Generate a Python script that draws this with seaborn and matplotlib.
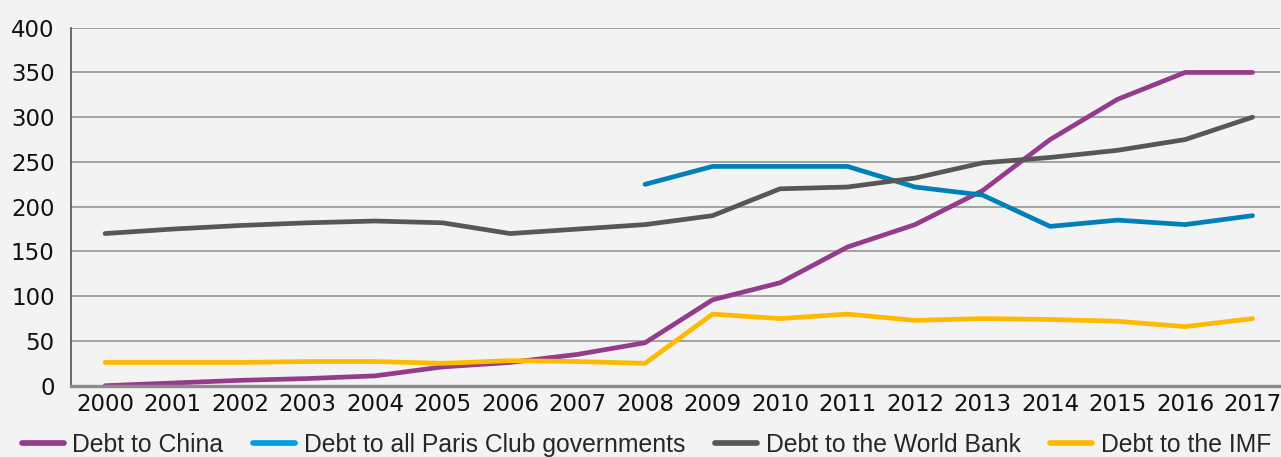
import numpy as np
import pandas as pd
import seaborn as sns
import matplotlib.pyplot as plt
from matplotlib.lines import Line2D

years = list(range(2000, 2018))

# values
china = [0, 3, 6, 8, 11, 21, 26, 35, 48, 96, 115, 155, 180, 218, 275, 320, 350, 350]
paris_club = [np.nan] * 8 + [225, 245, 245, 245, 222, 213, 178, 185, 180, 190]
world_bank = [170, 175, 179, 182, 184, 182, 170, 175, 180, 190, 220, 222, 232, 249, 255, 263, 275, 300]
imf = [26, 26, 26, 27, 27, 25, 28, 27, 25, 80, 75, 80, 73, 75, 74, 72, 66, 75]

series_names = ['Debt to China', 'Debt to all Paris Club governments',
                'Debt to the World Bank', 'Debt to the IMF']
line_colors = ['#953b8c', '#0080b8', '#575757', '#ffb900']
legend_colors = ['#953b8c', '#009fe3', '#575757', '#ffb900']

df = pd.DataFrame({
    'year': years * 4,
    'value': china + paris_club + world_bank + imf,
    'series': [n for n in series_names for _ in years],
})
df = df.dropna()

sns.set_style('white')
plt.rcParams['font.family'] = ['Liberation Sans', 'DejaVu Sans']

fig = plt.figure(figsize=(12.81, 4.57), dpi=100, facecolor='#f3f3f3')
ax = fig.add_axes([0.0557, 0.156, 0.9437, 0.7834])
ax.set_facecolor('#f3f3f3')

sns.lineplot(data=df, x='year', y='value', hue='series', hue_order=series_names,
             palette=line_colors, linewidth=3.4, legend=False, ax=ax,
             solid_capstyle='round', solid_joinstyle='round')

ax.set_xlim(1999.5, 2017.41)
ax.set_ylim(0, 400)
ax.set_yticks(range(0, 401, 50))
ax.set_xticks(years)
ax.set_xticklabels([str(y) for y in years])
ax.set_xlabel('')
ax.set_ylabel('')
ax.grid(axis='y', color='#8c8c8c', linewidth=1.1)
ax.grid(axis='x', visible=False)
ax.set_axisbelow(True)

for side in ['top', 'right']:
    ax.spines[side].set_visible(False)
ax.spines['left'].set_color('#444444')
ax.spines['left'].set_linewidth(1.1)
ax.spines['bottom'].set_color('#8c8c8c')
ax.spines['bottom'].set_linewidth(2.4)

ax.tick_params(axis='both', length=0, labelsize=16.5, colors='#111111')
ax.tick_params(axis='x', pad=5)
ax.tick_params(axis='y', pad=12)
# the digits in the reference are wide, DejaVu matches their size best
for lbl in ax.get_xticklabels() + ax.get_yticklabels():
    lbl.set_family('DejaVu Sans')

handles = [Line2D([0], [0], color=c, linewidth=4.1, solid_capstyle='round')
           for c in legend_colors]
fig.legend(handles, series_names, loc='center left', bbox_to_anchor=(0.017, 0.026),
           ncol=4, frameon=False, fontsize=17.8, handlelength=1.7,
           handletextpad=0.35, columnspacing=1.2, borderpad=0, borderaxespad=0)

fig.savefig('out.png', dpi=100, facecolor=fig.get_facecolor())
